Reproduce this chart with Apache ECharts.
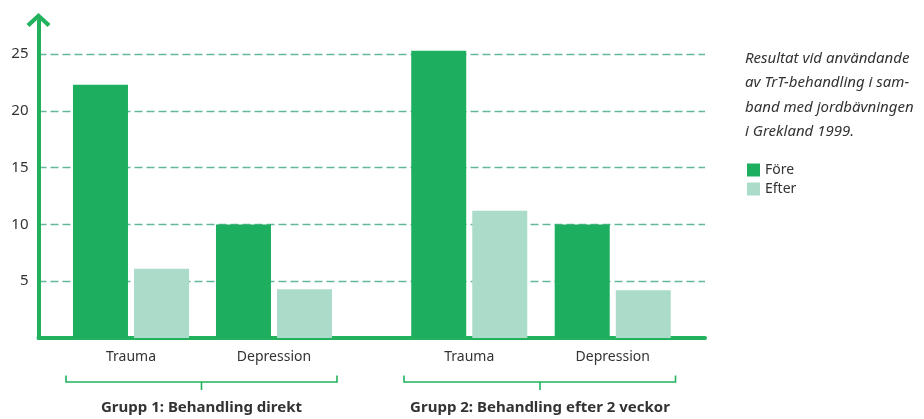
<!DOCTYPE html>
<html>
<head>
<meta charset="utf-8">
<script src="https://cdn.jsdelivr.net/npm/echarts@6/dist/echarts.min.js"></script>
<style>html,body{margin:0;padding:0;background:#fff}#c{width:924px;height:419px}</style>
</head>
<body>
<div id="c"></div>
<script>
const categories = ['Trauma', 'Depression'];
const groups = ['Grupp 1: Behandling direkt', 'Grupp 2: Behandling efter 2 veckor'];
const seriesNames = ['Före', 'Efter'];
const fore1 = [22.3, 10.0];
const efter1 = [6.1, 4.3];
const fore2 = [25.3, 10.0];
const efter2 = [11.2, 4.2];
const yTicks = [5, 10, 15, 20, 25];
const captionLines = ['Resultat vid användande', 'av TrT-behandling i sam-', 'band med jordbävningen', 'i Grekland 1999.'];

const FONT = 'Noto Sans';
const C_FORE = '#1dae60';
const C_EFTER = '#aadcc9';
const C_AXIS = '#22b25e';
const C_GRID = '#64b89e';
const C_TEXT = '#333333';
const YMAX = 28;
const TOP = 20, BOTTOM = 81;

const chart = echarts.init(document.getElementById('c'), null, {renderer: 'canvas'});

function barAxisX(idx) {
  return {
    type: 'category', gridIndex: idx, data: categories,
    axisLine: {show: false}, axisTick: {show: false},
    axisLabel: {fontFamily: FONT, fontSize: 14, color: C_TEXT, margin: 12}
  };
}
function hiddenY(idx) {
  return {type: 'value', gridIndex: idx, min: 0, max: YMAX, show: false};
}
function bar(name, data, idx, color) {
  return {
    name: name, type: 'bar', xAxisIndex: idx, yAxisIndex: idx, data: data,
    barWidth: 55, barGap: '11%', itemStyle: {color: color}, silent: true
  };
}

const brackets = [
  {l: 66, r: 337, c: 201.5},
  {l: 404, r: 675.5, c: 540}
];
const graphic = [];
brackets.forEach((b, i) => {
  graphic.push({
    type: 'polyline', shape: {points: [[b.l, 375.5], [b.l, 382], [b.r, 382], [b.r, 375.5]]},
    style: {stroke: C_AXIS, lineWidth: 1.6, fill: null}
  });
  graphic.push({
    type: 'line', shape: {x1: b.c, y1: 382, x2: b.c, y2: 390},
    style: {stroke: C_AXIS, lineWidth: 1.6}
  });
  graphic.push({
    type: 'text', x: b.c, y: 408,
    style: {text: groups[i], fontFamily: FONT, fontSize: 15, fontWeight: 'bold', fill: C_TEXT,
            textAlign: 'center', textVerticalAlign: 'middle'}
  });
});

const option = {
  backgroundColor: '#ffffff',
  animation: false,
  title: {
    text: captionLines.join('\n'), left: 745, top: 46, padding: 0,
    textStyle: {fontFamily: FONT, fontStyle: 'italic', fontWeight: 'normal', fontSize: 15,
                lineHeight: 24.5, color: C_TEXT}
  },
  legend: {
    data: seriesNames, orient: 'vertical', left: 747, top: 163, padding: 0,
    icon: 'rect', itemWidth: 13, itemHeight: 13, itemGap: 5,
    textStyle: {fontFamily: FONT, fontSize: 14, color: C_TEXT},
    selectedMode: false
  },
  grid: [
    {left: 38.5, right: 219, top: TOP, bottom: BOTTOM, containLabel: false},
    {left: 59.5, width: 286, top: TOP, bottom: BOTTOM, containLabel: false},
    {left: 397.5, width: 287, top: TOP, bottom: BOTTOM, containLabel: false}
  ],
  xAxis: [
    {type: 'value', gridIndex: 0, min: 0, max: 1,
     axisLine: {show: true, lineStyle: {color: C_AXIS, width: 4}},
     axisTick: {show: false}, axisLabel: {show: false}, splitLine: {show: false}},
    barAxisX(1), barAxisX(2)
  ],
  yAxis: [
    {type: 'value', gridIndex: 0, min: 0, max: YMAX, interval: 5,
     axisLine: {show: true, lineStyle: {color: C_AXIS, width: 4},
                symbol: ['none', 'path://M12,0 L24,11 L21,14 L12,5.6 L3,14 L0,11 Z'],
                symbolSize: [24, 14]},
     axisTick: {show: false},
     axisLabel: {fontFamily: FONT, fontSize: 15, color: C_TEXT, margin: 10,
                 formatter: v => (yTicks.indexOf(v) >= 0 ? String(v) : '')},
     splitLine: {show: true, showMinLine: false, showMaxLine: false,
                 lineStyle: {color: C_GRID, width: 1.4, type: [8, 4]}}},
    hiddenY(1), hiddenY(2)
  ],
  series: [
    bar(seriesNames[0], fore1, 1, C_FORE),
    bar(seriesNames[1], efter1, 1, C_EFTER),
    bar(seriesNames[0], fore2, 2, C_FORE),
    bar(seriesNames[1], efter2, 2, C_EFTER)
  ],
  graphic: graphic
};
chart.setOption(option);
</script>
</body>
</html>
